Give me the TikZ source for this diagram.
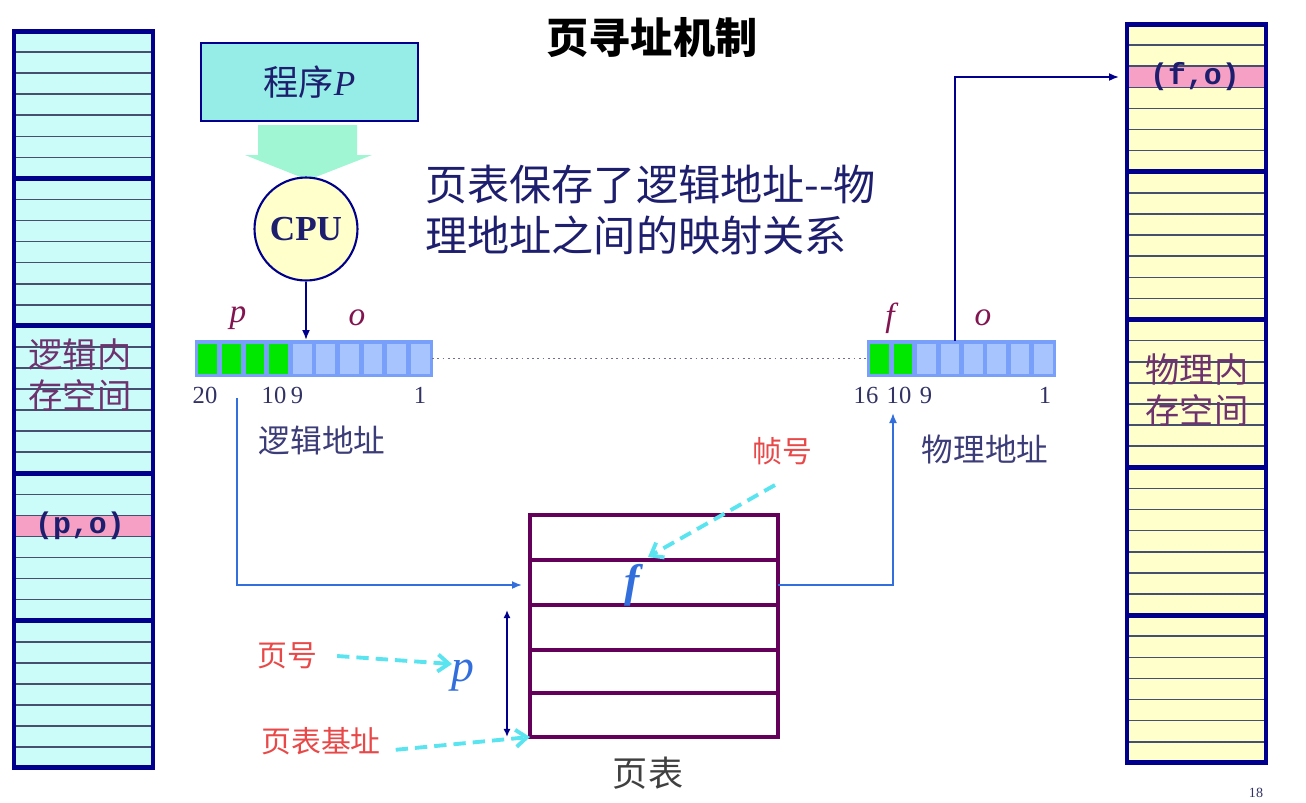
\documentclass[tikz,border=0pt]{standalone}
\usepackage{fontspec}
\setmainfont{Liberation Serif}
\newfontfamily\cjk{Noto Sans CJK SC}
\newfontfamily\courier{Liberation Mono}
\usepackage{xcolor}
\definecolor{navy}{RGB}{0,0,140}
\definecolor{cyanfill}{RGB}{204,252,250}
\definecolor{yellowfill}{RGB}{255,255,204}
\definecolor{pinkrow}{RGB}{245,160,196}
\definecolor{rowgray}{RGB}{70,80,110}
\definecolor{memtext}{RGB}{110,50,110}
\definecolor{progfill}{RGB}{150,236,230}
\definecolor{bigarrow}{RGB}{160,245,210}
\definecolor{regedge}{RGB}{120,160,250}
\definecolor{regcell}{RGB}{168,196,255}
\definecolor{bitgreen}{RGB}{0,232,0}
\definecolor{tabpurple}{RGB}{100,0,90}
\definecolor{linkblue}{RGB}{50,110,220}
\definecolor{hintcyan}{RGB}{90,228,240}
\definecolor{hintred}{RGB}{232,72,72}
\definecolor{textnavy}{RGB}{30,30,110}
\definecolor{labelnavy}{RGB}{60,60,120}
\definecolor{fieldpurple}{RGB}{130,20,80}
\definecolor{numgray}{RGB}{50,50,100}
\usepackage{tikz}
\usetikzlibrary{arrows.meta,positioning,calc}

\begin{document}
\begin{tikzpicture}[
  x=0.02cm, y=-0.02cm,
  membox/.style={rectangle, inner sep=0pt, outer sep=0pt, minimum width=2.78cm},
  memedge/.style={draw=navy, line width=2.8pt},
  rowline/.style={draw=rowgray, line width=0.9pt},
  secline/.style={draw=navy, line width=2.8pt},
  memlabel/.style={font=\cjk\fontsize{19.5}{23}\selectfont, text=memtext, align=center},
  slotlabel/.style={font=\courier\bfseries\fontsize{17}{19}\selectfont, text=textnavy},
  regbar/.style={rectangle, draw=regedge, fill=regedge, line width=1pt, inner sep=0pt, outer sep=0pt, minimum height=0.7cm},
  bitnum/.style={font=\fontsize{14}{16}\selectfont, text=numgray},
  fieldlab/.style={font=\itshape\fontsize{19}{21}\selectfont, text=fieldpurple},
  cnlabel/.style={font=\cjk\fontsize{18}{20}\selectfont, text=labelnavy},
  hintlabel/.style={font=\cjk\fontsize{17}{19}\selectfont, text=hintred},
  link/.style={-{Latex[length=2mm,width=1.6mm]}, line width=1pt, draw=linkblue},
  navyarrow/.style={-{Latex[length=2mm,width=1.6mm]}, line width=1pt, draw=navy},
  hint/.style={-{Straight Barb[length=2.2mm,width=3.4mm]}, line width=2.2pt, draw=hintcyan, dash pattern=on 7pt off 4pt},
  tabline/.style={draw=tabpurple, line width=2.6pt}
]
\useasboundingbox (0,0) rectangle (1306,802);

\node[font=\cjk\bfseries\fontsize{24}{26}\selectfont] (title) at (652,38) {页寻址机制};

% logical memory
\node[membox, fill=cyanfill, minimum height=14.74cm] (lmem) at (83.5,399.5) {};
\fill[pinkrow] (14,515.4) rectangle (153,536.4);
\foreach \k in {1,...,34}
  \draw[rowline] (16,{31+\k*21.06}) -- (151,{31+\k*21.06});
\foreach \k in {7,14,21,28}
  \draw[secline] (14,{31+\k*21.06}) -- (153,{31+\k*21.06});
\draw[memedge] (lmem.north west) rectangle (lmem.south east);
\node[memlabel] (lmemtxt) at (80,375) {逻辑内\\存空间};
\node[slotlabel] (po) at (80,526) {(p,o)};

% physical memory
\node[membox, fill=yellowfill, minimum height=14.78cm] (rmem) at (1196.5,393.5) {};
\fill[pinkrow] (1127,66.2) rectangle (1266,87.3);
\foreach \k in {1,...,34}
  \draw[rowline] (1129,{24+\k*21.11}) -- (1264,{24+\k*21.11});
\foreach \k in {7,14,21,28}
  \draw[secline] (1127,{24+\k*21.11}) -- (1266,{24+\k*21.11});
\draw[memedge] (rmem.north west) rectangle (rmem.south east);
\node[memlabel] (rmemtxt) at (1197,390) {物理内\\存空间};
\node[slotlabel] (fo) at (1195,77) {(f,o)};

% program and cpu
\node[draw=navy, fill=progfill, line width=1.5pt, minimum width=4.34cm, minimum height=1.56cm,
  font=\fontsize{20}{22}\selectfont, text=textnavy] (prog) at (309.5,82) {{\cjk 程序}\textit{P}};
\fill[bigarrow] (258,125) -- (357,125) -- (357,155) -- (372,155) -- (308,180) -- (245,155) -- (258,155) -- cycle;
\node[circle, draw=navy, fill=yellowfill, line width=1.2pt, minimum size=2.06cm,
  font=\bfseries\fontsize{20}{22}\selectfont, text=textnavy] (cpu) at (306,229) {CPU};

\node[font=\cjk\fontsize{24}{29}\selectfont, text=textnavy, align=left, anchor=west] (note) at (419,210)
  {页表保存了逻辑地址--物\\理地址之间的映射关系};

% logical address
\node[regbar, minimum width=4.72cm] (laddr) at (314,358.5) {};
\foreach \i in {0,...,3}
  \fill[bitgreen] ({196+\i*23.6+2.4},343.5) rectangle ({196+(\i+1)*23.6-2.4},373.5);
\foreach \i in {4,...,9}
  \fill[regcell] ({196+\i*23.6+2.4},343.5) rectangle ({196+(\i+1)*23.6-2.4},373.5);
\node[fieldlab] (lp) at (238,318) {p};
\node[fieldlab] (lo) at (357,318) {o};
\node[bitnum] (l20) at (205,395) {20};
\node[bitnum] (l10) at (274,395) {10};
\node[bitnum] (l9) at (297,395) {9};
\node[bitnum] (l1) at (420,395) {1};
\node[cnlabel] (lcap) at (322,440) {逻辑地址};

% physical address
\node[regbar, minimum width=3.74cm] (paddr) at (961.5,358.5) {};
\foreach \i in {0,1}
  \fill[bitgreen] ({868+\i*23.4+2.4},343.5) rectangle ({868+(\i+1)*23.4-2.4},373.5);
\foreach \i in {2,...,7}
  \fill[regcell] ({868+\i*23.4+2.4},343.5) rectangle ({868+(\i+1)*23.4-2.4},373.5);
\node[fieldlab] (pf) at (890,318) {f};
\node[fieldlab] (po2) at (983,318) {o};
\node[bitnum] (p16) at (866,395) {16};
\node[bitnum] (p10) at (899,395) {10};
\node[bitnum] (p9) at (926,395) {9};
\node[bitnum] (p1) at (1045,395) {1};
\node[cnlabel] (pcap) at (985,449) {物理地址};

\draw[draw=numgray!70, line width=1pt, dotted] (laddr.east) -- (paddr.west);

% page table
\node[draw=tabpurple, line width=2.6pt, minimum width=4.96cm, minimum height=4.44cm,
  inner sep=0pt, outer sep=0pt] (ptab) at (654,626) {};
\foreach \yy in {560,605,650,693}
  \draw[tabline] (ptab.west |- 0,\yy) -- (ptab.east |- 0,\yy);
\node[font=\bfseries\itshape\fontsize{26}{28}\selectfont, text=linkblue] (fval) at (632,585) {f};
\node[font=\cjk\fontsize{20}{22}\selectfont, text=black!75] (ptabcap) at (648,773) {页表};
\node[font=\itshape\fontsize{26}{28}\selectfont, text=linkblue] (pvar) at (463,676) {p};

\node[hintlabel] (pnum) at (287,656) {页号};
\node[hintlabel] (pbase) at (321,741) {页表基址};
\node[hintlabel] (fnum) at (782,451) {帧号};

\coordinate (cpuin) at (306,340);
\coordinate (lsrc) at (237,398);
\coordinate (tin) at (522,585);
\coordinate (pin) at (893,413);
\coordinate (pout) at (955,341);
\coordinate (fotip) at (1119,77);
\coordinate (ptop) at (507,610);
\coordinate (pvartip) at (452,664);
\coordinate (ftip) at (648,557);

\draw[navyarrow] (cpu.south) -- (cpuin);
\draw[link] (lsrc) |- (tin);
\draw[link] (ptab.east |- tin) -| (pin);
\draw[navyarrow] (pout) |- (fotip);
\draw[navyarrow, {Latex[length=1.6mm,width=1.4mm]}-{Latex[length=1.6mm,width=1.4mm]}] (ptop) -- (ptop |- ptab.south);

\draw[hint] ([xshift=8pt]pnum.east) -- (pvartip);
\draw[hint] ([xshift=5pt,yshift=-5pt]pbase.east) -- (ptab.south west);
\draw[hint] ([xshift=-4pt,yshift=-8pt]fnum.south) -- (ftip);

\node[font=\fontsize{8}{9}\selectfont, text=numgray] (pageno) at (1256,793) {18};
\end{tikzpicture}
\end{document}
